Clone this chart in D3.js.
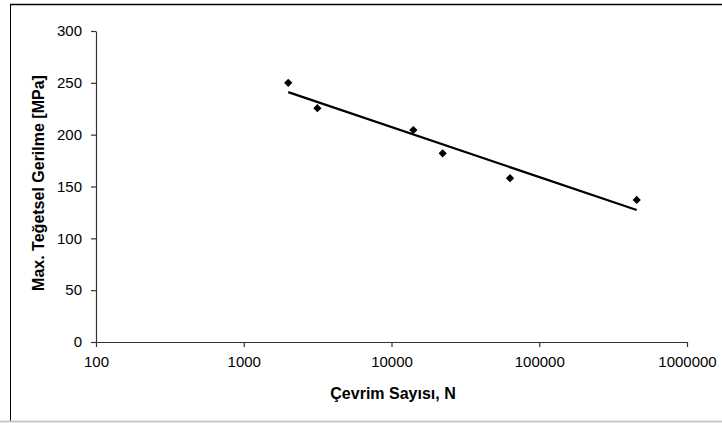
<!DOCTYPE html>
<html>
<head>
<meta charset="utf-8">
<script src="https://cdn.jsdelivr.net/npm/d3@7"></script>
<style>
  body { margin: 0; background: #fff; }
  text { font-family: "Liberation Sans", Arial, sans-serif; fill: #000; }
</style>
</head>
<body>
<div id="chart"></div>
<script>
// measured points: cycles N vs max shear stress (MPa)
const cycles = [2000, 3150, 14050, 22200, 63400, 456600];
const stress = [250, 225.5, 204.5, 182, 158, 137];
// trendline endpoints (straight on log-x)
const trendN = [2000, 456600];
const trendS = [241, 127.3];
const yTicks = [0, 50, 100, 150, 200, 250, 300];
const xTicks = [100, 1000, 10000, 100000, 1000000];

const W = 722, H = 423;

const svg = d3.select("#chart").append("svg")
    .attr("width", W)
    .attr("height", H);

// chart area frame
svg.append("line").attr("x1", 10).attr("x2", W).attr("y1", 4.5).attr("y2", 4.5)
    .style("stroke", "#000").style("stroke-width", 1.5);
svg.append("line").attr("x1", 10.5).attr("x2", 10.5).attr("y1", 4).attr("y2", 421)
    .style("stroke", "#000").style("stroke-width", 1);
svg.append("line").attr("x1", 0).attr("x2", W).attr("y1", 421.5).attr("y2", 421.5)
    .style("stroke", "#c8c8c8").style("stroke-width", 2);

const x = d3.scaleLog().domain([100, 1000000]).range([96, 687]);
const y = d3.scaleLinear().domain([0, 300]).range([342, 31]);

// axes
const yAxis = svg.append("g")
    .attr("transform", "translate(96,0)")
    .call(d3.axisLeft(y).tickValues(yTicks).tickSize(5).tickSizeOuter(0).tickPadding(9));

const xAxis = svg.append("g")
    .attr("transform", "translate(0,342)")
    .call(d3.axisBottom(x).tickValues(xTicks).tickFormat(d3.format("d"))
        .tickSize(5).tickSizeOuter(0).tickPadding(9));

[yAxis, xAxis].forEach(g => {
  g.select(".domain").style("stroke", "#333").style("stroke-width", 1.2);
  g.selectAll(".tick line").style("stroke", "#333").style("stroke-width", 1.2);
  g.selectAll(".tick text")
      .style("font-family", "'Liberation Sans', Arial, sans-serif")
      .style("font-size", "15px")
      .style("fill", "#000");
});

// trendline
const trend = trendN.map((n, i) => [n, trendS[i]]);
svg.append("path")
    .datum(trend)
    .attr("d", d3.line().x(d => x(d[0])).y(d => y(d[1])))
    .style("fill", "none")
    .style("stroke", "#000")
    .style("stroke-width", 2.2);

// data markers (diamonds)
const pts = cycles.map((n, i) => [n, stress[i]]);
svg.selectAll(".pt")
    .data(pts)
    .enter().append("path")
    .attr("class", "pt")
    .attr("d", d3.symbol(d3.symbolSquare, 34))
    .attr("transform", d => `translate(${x(d[0])},${y(d[1])}) rotate(45)`)
    .style("fill", "#000");

// axis titles
svg.append("text")
    .attr("x", 393)
    .attr("y", 393)
    .attr("dy", "0.35em")
    .style("text-anchor", "middle")
    .style("font-size", "16px")
    .style("font-weight", "bold")
    .text("Çevrim Sayısı, N");

svg.append("text")
    .attr("transform", "translate(38,183) rotate(-90)")
    .attr("dy", "0.35em")
    .style("text-anchor", "middle")
    .style("font-size", "16px")
    .style("font-weight", "bold")
    .text("Max. Teğetsel Gerilme [MPa]");
</script>
</body>
</html>
